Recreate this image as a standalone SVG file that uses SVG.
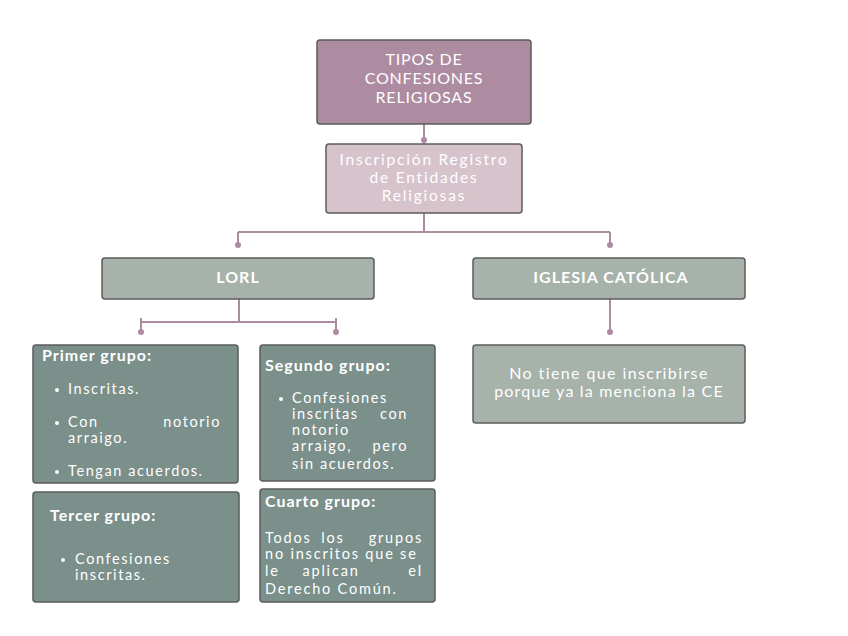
<svg xmlns="http://www.w3.org/2000/svg" width="848" height="636" viewBox="0 0 848 636">
<style>
.box{stroke:#5c5c5c;stroke-width:1.5}
.t{font-family:Lato,"Open Sans","Liberation Sans",sans-serif;fill:#ffffff}
.h{font-weight:bold;font-size:16px;letter-spacing:1px}
.b{font-size:14.5px;letter-spacing:1.6px}
.c{text-anchor:middle}
.ln{stroke:#ad8ba0;stroke-width:2;fill:none}
.dot{fill:#ad8ba0}
.q{font-size:14.5px;letter-spacing:1.8px}
.ti{font-size:16px;letter-spacing:0.8px}
</style>
<rect width="848" height="636" fill="#ffffff"/>
<g id="connectors">
<path class="ln" d="M424 124V144"/>
<circle class="dot" cx="424" cy="140" r="3"/>
<path class="ln" d="M424 213V232M238 232H610M238 232V245M610 232V245"/>
<circle class="dot" cx="238" cy="245" r="3"/>
<circle class="dot" cx="610" cy="245" r="3"/>
<path class="ln" d="M239 299V322M141 322H336M141 318V332M336 318V332"/>
<circle class="dot" cx="141" cy="332" r="3"/>
<circle class="dot" cx="336" cy="332" r="3"/>
<path class="ln" d="M610 299V332"/>
<circle class="dot" cx="610" cy="332" r="3"/>
</g>
<g id="n-tipos">
<rect class="box" x="317" y="40" width="214" height="84" rx="3" fill="#ad8ba0"/>
<text class="t c ti" x="424" y="65">TIPOS DE</text>
<text class="t c ti" x="424" y="84">CONFESIONES</text>
<text class="t c ti" x="424" y="103">RELIGIOSAS</text>
</g>
<g id="n-inscripcion">
<rect class="box" x="326" y="144" width="196" height="69" rx="3" fill="#d6c3cb"/>
<text class="t c" font-size="15.5" letter-spacing="1.8" x="424" y="165" fill="#f7f0f3">Inscripción Registro</text>
<text class="t c" font-size="15.5" letter-spacing="1.8" x="424" y="183" fill="#f7f0f3">de Entidades</text>
<text class="t c" font-size="15.5" letter-spacing="1.8" x="424" y="201" fill="#f7f0f3">Religiosas</text>
</g>
<g id="n-lorl">
<rect class="box" x="102" y="258" width="272" height="41" rx="3" fill="#a6b2aa"/>
<text class="t c h" x="238" y="283">LORL</text>
</g>
<g id="n-iglesia">
<rect class="box" x="473" y="258" width="272" height="41" rx="3" fill="#a6b2aa"/>
<text class="t c h" x="611" y="283">IGLESIA CATÓLICA</text>
</g>
<g id="n-primer">
<rect class="box" x="33" y="345" width="205" height="138" rx="3" fill="#7b8f8b"/>
<text class="t h" x="42" y="361">Primer grupo:</text>
<circle cx="57" cy="390" r="2" fill="#fff"/>
<text class="t b" x="68" y="394">Inscritas.</text>
<circle cx="57" cy="423" r="2" fill="#fff"/>
<text class="t b" x="68" y="427">Con</text>
<text class="t b" x="221" y="427" text-anchor="end">notorio</text>
<text class="t b" x="68" y="443">arraigo.</text>
<circle cx="57" cy="472" r="2" fill="#fff"/>
<text class="t b" x="68" y="476">Tengan acuerdos.</text>
</g>
<g id="n-segundo">
<rect class="box" x="260" y="345" width="175" height="136" rx="3" fill="#7b8f8b"/>
<text class="t h" x="265" y="371">Segundo grupo:</text>
<circle cx="281" cy="399" r="2" fill="#fff"/>
<text class="t b" x="292" y="403">Confesiones</text>
<text class="t b" x="292" y="419">inscritas</text>
<text class="t b" x="408" y="419" text-anchor="end">con</text>
<text class="t b" x="292" y="435">notorio</text>
<text class="t b" x="292" y="451">arraigo,</text>
<text class="t b" x="408" y="451" text-anchor="end">pero</text>
<text class="t b" x="292" y="469">sin acuerdos.</text>
</g>
<g id="n-tercer">
<rect class="box" x="33" y="492" width="206" height="110" rx="3" fill="#7b8f8b"/>
<text class="t h" x="50" y="521">Tercer grupo:</text>
<circle cx="63" cy="560" r="2" fill="#fff"/>
<text class="t b" x="75" y="564">Confesiones</text>
<text class="t b" x="75" y="580">inscritas.</text>
</g>
<g id="n-cuarto">
<rect class="box" x="260" y="489" width="175" height="113" rx="3" fill="#7b8f8b"/>
<text class="t h" x="265" y="507">Cuarto grupo:</text>
<text class="t q" x="265" y="543">Todos</text>
<text class="t q c" x="333" y="543">los</text>
<text class="t q" x="423" y="543" text-anchor="end">grupos</text>
<text class="t q" x="265" y="559">no inscritos que se</text>
<text class="t q" x="265" y="576">le</text>
<text class="t q c" x="331" y="576">aplican</text>
<text class="t q" x="423" y="576" text-anchor="end">el</text>
<text class="t q" x="265" y="594">Derecho Común.</text>
</g>
<g id="n-notiene">
<rect class="box" x="473" y="345" width="272" height="78" rx="3" fill="#a6b2aa"/>
<text class="t c" font-size="16" letter-spacing="1.4" x="609" y="379">No tiene que inscribirse</text>
<text class="t c" font-size="16" letter-spacing="1.2" x="609" y="397">porque ya la menciona la CE</text>
</g>
</svg>
